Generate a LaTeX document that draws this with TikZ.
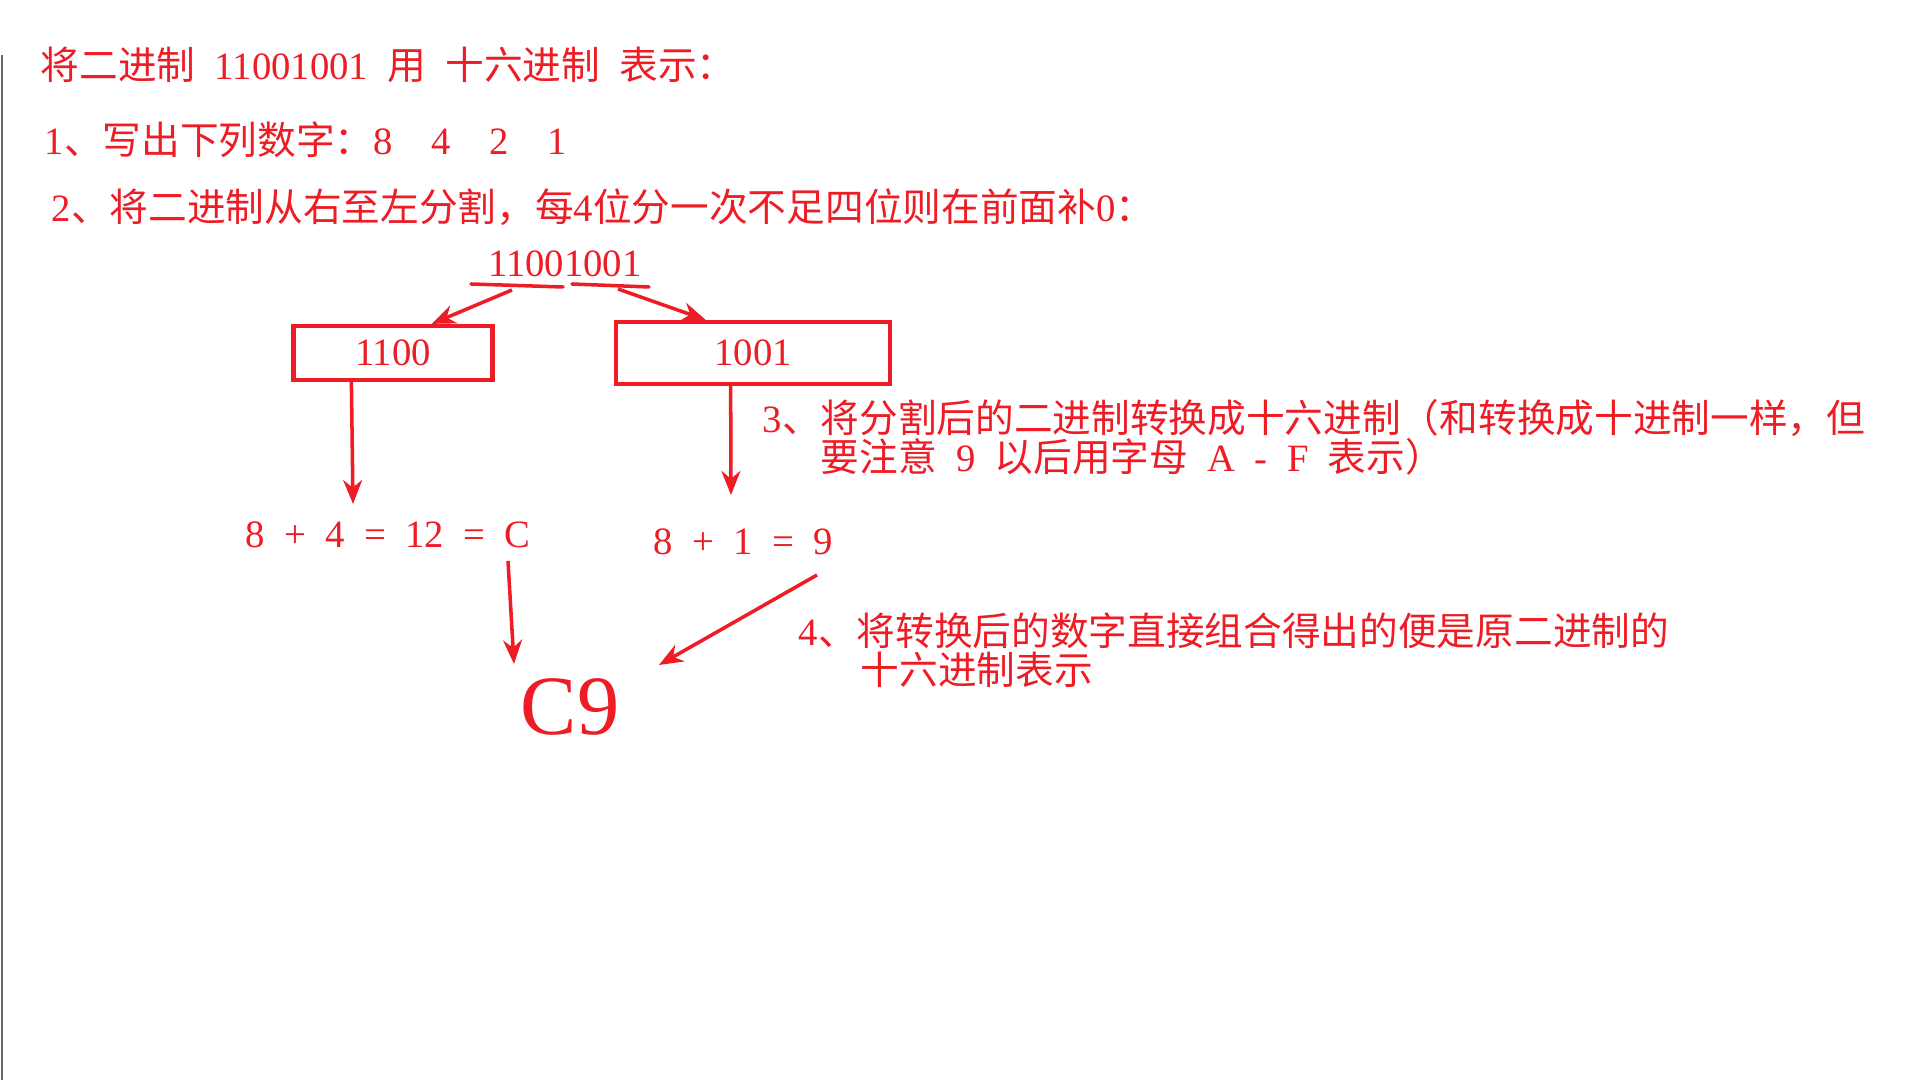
\documentclass[tikz,border=0pt]{standalone}
\usepackage{fontspec}
\setmainfont[WordSpace=2]{Liberation Serif}
\newfontfamily\cjk{Noto Sans CJK SC}
\usepackage{xcolor}
\usetikzlibrary{arrows.meta,positioning}
\definecolor{pptred}{HTML}{EE1C25}

\begin{document}
\begin{tikzpicture}[x=0.01cm,y=-0.01cm,
  every node/.style={font=\fontsize{11pt}{13pt}\selectfont,text=pptred,inner sep=0pt},
  txt/.style={anchor=west},
  bitbox/.style={draw=pptred,line width=1.2pt,minimum height=0.54cm},
  arr/.style={-{Stealth[length=2.4mm,width=1.9mm]},draw=pptred,line width=1pt},
  uline/.style={draw=pptred,line width=1pt,line cap=round}]
\fill[white] (0,0) rectangle (1920,1080);
\useasboundingbox (0,0) rectangle (1920,1080);
\draw[black!60,line width=0.6pt] (2,55) -- (2,1080);
\node[txt] (title) at (40,65) {{\cjk 将二进制} 11001001 {\cjk 用} {\cjk 十六进制} {\cjk 表示：}};
\node[txt] (stepone) at (44,140) {1{\cjk 、写出下列数字：}8~~4~~2~~1};
\node[txt] (steptwo) at (51,207) {2{\cjk 、将二进制从右至左分割，每}4{\cjk 位分一次不足四位则在前面补}0{\cjk ：}};
\node (bin) at (565,264) {11001001};
\coordinate (ula) at (471,284);
\coordinate (ulb) at (563,287);
\coordinate (ura) at (572,284);
\coordinate (urb) at (649,287);
\draw[uline] (ula) -- (ulb);
\draw[uline] (ura) -- (urb);
\node[bitbox,minimum width=1.99cm] (boxl) at (393,353) {1100};
\node[bitbox,minimum width=2.74cm,minimum height=0.62cm] (boxr) at (753,353) {1001};
\coordinate (sl) at (512,290);
\coordinate (sr) at (618,289);
\draw[arr] (sl) -- (boxl.37);
\draw[arr] (sr) -- (boxr.145);
\coordinate (tl) at (353,504);
\coordinate (tr) at (731,495);
\draw[arr] (boxl.215) -- (tl);
\draw[arr] (boxr.236) -- (tr);
\node[txt] (eql) at (245,535) {8 + 4 = 12 = C};
\node[txt] (eqr) at (653,542) {8 + 1 = 9};
\node[font=\fontsize{24pt}{28pt}\selectfont] (res) at (570,707) {C9};
\coordinate (ca) at (508,561);
\coordinate (cb) at (514,664);
\coordinate (da) at (817,575);
\coordinate (db) at (659,665);
\draw[arr] (ca) -- (cb);
\draw[arr] (da) -- (db);
\node[txt] (stepthree) at (762,418) {3{\cjk 、将分割后的二进制转换成十六进制（和转换成十进制一样，但}};
\node[txt] (stepthreeb) at (820,457) {{\cjk 要注意} 9 {\cjk 以后用字母} A - F {\cjk 表示）}};
\node[txt] (stepfour) at (798,631) {4{\cjk 、将转换后的数字直接组合得出的便是原二进制的}};
\node[txt] (stepfourb) at (860,670) {{\cjk 十六进制表示}};
\end{tikzpicture}
\end{document}
